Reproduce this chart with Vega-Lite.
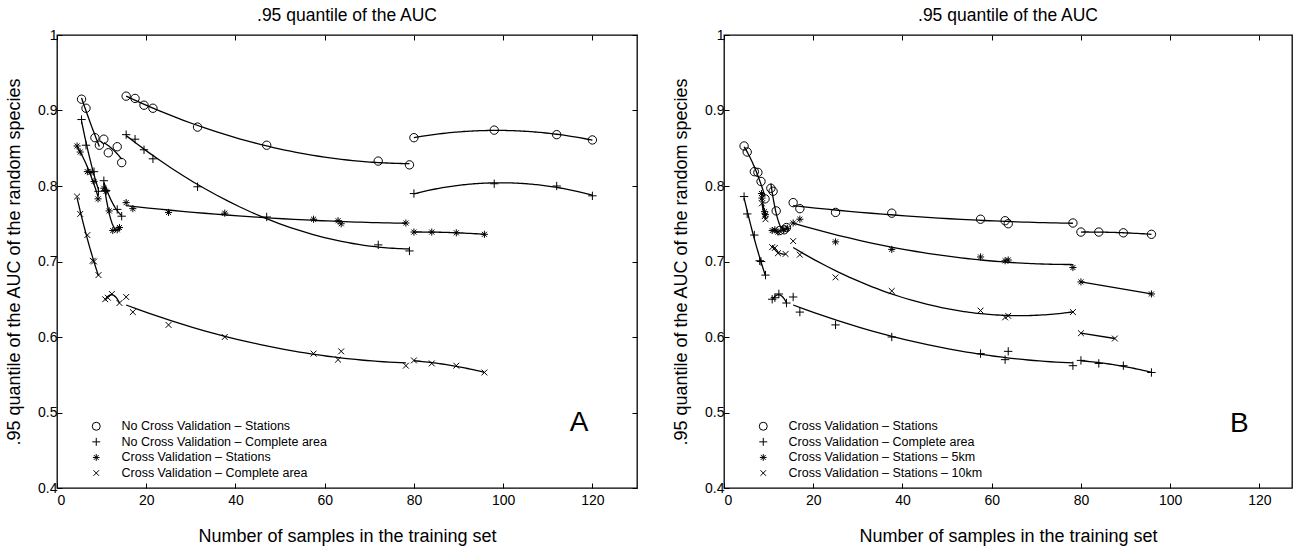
{
"$schema": "https://vega.github.io/schema/vega-lite/v6.json",
"background": "white",
"padding": {"left": 4, "top": 5, "right": 0, "bottom": 0},
"spacing": 32,
"resolve": {"scale": {"shape": "independent"}, "legend": {"shape": "independent"}},
"config": {
 "font": "Liberation Sans",
 "view": {"stroke": "black", "strokeWidth": 1.3},
 "axis": {"grid": false, "domain": false, "tickColor": "black", "tickSize": -5, "tickWidth": 1, "labelColor": "black", "labelFontSize": 14, "labelFont": "Liberation Sans", "titleColor": "black", "titleFont": "Liberation Sans", "titleFontSize": 18, "titleFontWeight": "normal"},
 "title": {"font": "Liberation Sans", "fontSize": 17.5, "fontWeight": "normal", "color": "black", "offset": 0},
 "legend": {"orient": "none", "legendX": 33, "legendY": 385, "title": null, "labelFontSize": 12.5, "labelFont": "Liberation Sans", "labelColor": "black", "labelLimit": 400, "symbolSize": 64, "symbolStrokeWidth": 1, "symbolStrokeColor": "black", "symbolFillColor": "transparent", "labelOffset": 19, "rowPadding": 2.6}
},
"datasets": {
 "A": [
  {"s":"No Cross Validation – Stations","g":1,"x":5.5,"y":0.915},{"s":"No Cross Validation – Stations","g":1,"x":6.5,"y":0.903},{"s":"No Cross Validation – Stations","g":1,"x":8.5,"y":0.864},{"s":"No Cross Validation – Stations","g":1,"x":9.5,"y":0.854},
  {"s":"No Cross Validation – Stations","g":2,"x":10.5,"y":0.862},{"s":"No Cross Validation – Stations","g":2,"x":11.5,"y":0.844},{"s":"No Cross Validation – Stations","g":2,"x":13.5,"y":0.852},{"s":"No Cross Validation – Stations","g":2,"x":14.5,"y":0.831},
  {"s":"No Cross Validation – Stations","g":3,"x":15.5,"y":0.919},{"s":"No Cross Validation – Stations","g":3,"x":17.5,"y":0.916},{"s":"No Cross Validation – Stations","g":3,"x":19.5,"y":0.907},{"s":"No Cross Validation – Stations","g":3,"x":21.5,"y":0.903},{"s":"No Cross Validation – Stations","g":3,"x":31.5,"y":0.878},{"s":"No Cross Validation – Stations","g":3,"x":47,"y":0.854},{"s":"No Cross Validation – Stations","g":3,"x":72,"y":0.833},{"s":"No Cross Validation – Stations","g":3,"x":79,"y":0.828},
  {"s":"No Cross Validation – Stations","g":4,"x":80,"y":0.864},{"s":"No Cross Validation – Stations","g":4,"x":98,"y":0.874},{"s":"No Cross Validation – Stations","g":4,"x":112,"y":0.868},{"s":"No Cross Validation – Stations","g":4,"x":120,"y":0.861},
  {"s":"No Cross Validation – Complete area","g":1,"x":5.5,"y":0.888},{"s":"No Cross Validation – Complete area","g":1,"x":6.5,"y":0.854},{"s":"No Cross Validation – Complete area","g":1,"x":8.3,"y":0.819},{"s":"No Cross Validation – Complete area","g":1,"x":9.3,"y":0.793},
  {"s":"No Cross Validation – Complete area","g":2,"x":10.5,"y":0.807},{"s":"No Cross Validation – Complete area","g":2,"x":11,"y":0.794},{"s":"No Cross Validation – Complete area","g":2,"x":13.5,"y":0.769},{"s":"No Cross Validation – Complete area","g":2,"x":14.5,"y":0.76},
  {"s":"No Cross Validation – Complete area","g":3,"x":15.5,"y":0.868},{"s":"No Cross Validation – Complete area","g":3,"x":17.5,"y":0.862},{"s":"No Cross Validation – Complete area","g":3,"x":19.5,"y":0.848},{"s":"No Cross Validation – Complete area","g":3,"x":21.5,"y":0.836},{"s":"No Cross Validation – Complete area","g":3,"x":31.5,"y":0.799},{"s":"No Cross Validation – Complete area","g":3,"x":47,"y":0.759},{"s":"No Cross Validation – Complete area","g":3,"x":72,"y":0.722},{"s":"No Cross Validation – Complete area","g":3,"x":79,"y":0.714},
  {"s":"No Cross Validation – Complete area","g":4,"x":80,"y":0.79},{"s":"No Cross Validation – Complete area","g":4,"x":98,"y":0.803},{"s":"No Cross Validation – Complete area","g":4,"x":112,"y":0.8},{"s":"No Cross Validation – Complete area","g":4,"x":120,"y":0.787},
  {"s":"Cross Validation – Stations","g":1,"x":4.5,"y":0.853},{"s":"Cross Validation – Stations","g":1,"x":5.2,"y":0.845},{"s":"Cross Validation – Stations","g":1,"x":6.8,"y":0.819},{"s":"Cross Validation – Stations","g":1,"x":7.6,"y":0.818},{"s":"Cross Validation – Stations","g":1,"x":8.3,"y":0.806},{"s":"Cross Validation – Stations","g":1,"x":9.2,"y":0.783},
  {"s":"Cross Validation – Stations","g":2,"x":10.5,"y":0.797},{"s":"Cross Validation – Stations","g":2,"x":11,"y":0.793},{"s":"Cross Validation – Stations","g":2,"x":11.7,"y":0.767},{"s":"Cross Validation – Stations","g":2,"x":12.5,"y":0.741},{"s":"Cross Validation – Stations","g":2,"x":13.5,"y":0.742},{"s":"Cross Validation – Stations","g":2,"x":14,"y":0.745},
  {"s":"Cross Validation – Stations","g":3,"x":15.5,"y":0.778},{"s":"Cross Validation – Stations","g":3,"x":17,"y":0.77},{"s":"Cross Validation – Stations","g":3,"x":25,"y":0.765},{"s":"Cross Validation – Stations","g":3,"x":37.6,"y":0.764},{"s":"Cross Validation – Stations","g":3,"x":57.5,"y":0.756},{"s":"Cross Validation – Stations","g":3,"x":63,"y":0.754},{"s":"Cross Validation – Stations","g":3,"x":63.7,"y":0.75},{"s":"Cross Validation – Stations","g":3,"x":78.2,"y":0.751},
  {"s":"Cross Validation – Stations","g":4,"x":80,"y":0.739},{"s":"Cross Validation – Stations","g":4,"x":84,"y":0.739},{"s":"Cross Validation – Stations","g":4,"x":89.5,"y":0.738},{"s":"Cross Validation – Stations","g":4,"x":95.8,"y":0.736},
  {"s":"Cross Validation – Complete area","g":1,"x":4.5,"y":0.786},{"s":"Cross Validation – Complete area","g":1,"x":5.2,"y":0.763},{"s":"Cross Validation – Complete area","g":1,"x":6.8,"y":0.735},{"s":"Cross Validation – Complete area","g":1,"x":8,"y":0.701},{"s":"Cross Validation – Complete area","g":1,"x":8.3,"y":0.7},{"s":"Cross Validation – Complete area","g":1,"x":9.3,"y":0.682},
  {"s":"Cross Validation – Complete area","g":2,"x":10.8,"y":0.65},{"s":"Cross Validation – Complete area","g":2,"x":11.4,"y":0.652},{"s":"Cross Validation – Complete area","g":2,"x":12.3,"y":0.657},{"s":"Cross Validation – Complete area","g":2,"x":14,"y":0.645},
  {"s":"Cross Validation – Complete area","g":3,"x":15.5,"y":0.653},{"s":"Cross Validation – Complete area","g":3,"x":17,"y":0.633},{"s":"Cross Validation – Complete area","g":3,"x":25,"y":0.616},{"s":"Cross Validation – Complete area","g":3,"x":37.6,"y":0.6},{"s":"Cross Validation – Complete area","g":3,"x":57.5,"y":0.578},{"s":"Cross Validation – Complete area","g":3,"x":63,"y":0.57},{"s":"Cross Validation – Complete area","g":3,"x":63.7,"y":0.581},{"s":"Cross Validation – Complete area","g":3,"x":78.2,"y":0.562},
  {"s":"Cross Validation – Complete area","g":4,"x":80,"y":0.569},{"s":"Cross Validation – Complete area","g":4,"x":84,"y":0.565},{"s":"Cross Validation – Complete area","g":4,"x":89.5,"y":0.562},{"s":"Cross Validation – Complete area","g":4,"x":95.8,"y":0.553}
 ],
 "B": [
  {"s":"Cross Validation – Stations","g":1,"x":4.5,"y":0.853},{"s":"Cross Validation – Stations","g":1,"x":5.2,"y":0.845},{"s":"Cross Validation – Stations","g":1,"x":6.8,"y":0.819},{"s":"Cross Validation – Stations","g":1,"x":7.6,"y":0.818},{"s":"Cross Validation – Stations","g":1,"x":8.3,"y":0.806},{"s":"Cross Validation – Stations","g":1,"x":9.2,"y":0.783},
  {"s":"Cross Validation – Stations","g":2,"x":10.5,"y":0.797},{"s":"Cross Validation – Stations","g":2,"x":11,"y":0.793},{"s":"Cross Validation – Stations","g":2,"x":11.7,"y":0.767},{"s":"Cross Validation – Stations","g":2,"x":12.5,"y":0.741},{"s":"Cross Validation – Stations","g":2,"x":13.5,"y":0.742},{"s":"Cross Validation – Stations","g":2,"x":14,"y":0.745},
  {"s":"Cross Validation – Stations","g":3,"x":15.5,"y":0.778},{"s":"Cross Validation – Stations","g":3,"x":17,"y":0.77},{"s":"Cross Validation – Stations","g":3,"x":25,"y":0.765},{"s":"Cross Validation – Stations","g":3,"x":37.6,"y":0.764},{"s":"Cross Validation – Stations","g":3,"x":57.5,"y":0.756},{"s":"Cross Validation – Stations","g":3,"x":63,"y":0.754},{"s":"Cross Validation – Stations","g":3,"x":63.7,"y":0.75},{"s":"Cross Validation – Stations","g":3,"x":78.2,"y":0.751},
  {"s":"Cross Validation – Stations","g":4,"x":80,"y":0.739},{"s":"Cross Validation – Stations","g":4,"x":84,"y":0.739},{"s":"Cross Validation – Stations","g":4,"x":89.5,"y":0.738},{"s":"Cross Validation – Stations","g":4,"x":95.8,"y":0.736},
  {"s":"Cross Validation – Complete area","g":1,"x":4.5,"y":0.786},{"s":"Cross Validation – Complete area","g":1,"x":5.2,"y":0.763},{"s":"Cross Validation – Complete area","g":1,"x":6.8,"y":0.735},{"s":"Cross Validation – Complete area","g":1,"x":8,"y":0.701},{"s":"Cross Validation – Complete area","g":1,"x":8.3,"y":0.7},{"s":"Cross Validation – Complete area","g":1,"x":9.3,"y":0.682},
  {"s":"Cross Validation – Complete area","g":2,"x":10.8,"y":0.65},{"s":"Cross Validation – Complete area","g":2,"x":11.4,"y":0.652},{"s":"Cross Validation – Complete area","g":2,"x":12.3,"y":0.657},{"s":"Cross Validation – Complete area","g":2,"x":14,"y":0.645},
  {"s":"Cross Validation – Complete area","g":3,"x":15.5,"y":0.653},{"s":"Cross Validation – Complete area","g":3,"x":17,"y":0.633},{"s":"Cross Validation – Complete area","g":3,"x":25,"y":0.616},{"s":"Cross Validation – Complete area","g":3,"x":37.6,"y":0.6},{"s":"Cross Validation – Complete area","g":3,"x":57.5,"y":0.578},{"s":"Cross Validation – Complete area","g":3,"x":63,"y":0.57},{"s":"Cross Validation – Complete area","g":3,"x":63.7,"y":0.581},{"s":"Cross Validation – Complete area","g":3,"x":78.2,"y":0.562},
  {"s":"Cross Validation – Complete area","g":4,"x":80,"y":0.569},{"s":"Cross Validation – Complete area","g":4,"x":84,"y":0.565},{"s":"Cross Validation – Complete area","g":4,"x":89.5,"y":0.562},{"s":"Cross Validation – Complete area","g":4,"x":95.8,"y":0.553},
  {"s":"Cross Validation – Stations – 5km","g":1,"x":8.4,"y":0.79},{"s":"Cross Validation – Stations – 5km","g":1,"x":8.5,"y":0.784},{"s":"Cross Validation – Stations – 5km","g":1,"x":9.1,"y":0.766},{"s":"Cross Validation – Stations – 5km","g":1,"x":9.3,"y":0.762},
  {"s":"Cross Validation – Stations – 5km","g":2,"x":10.8,"y":0.741},{"s":"Cross Validation – Stations – 5km","g":2,"x":11.4,"y":0.742},{"s":"Cross Validation – Stations – 5km","g":2,"x":12.1,"y":0.739},{"s":"Cross Validation – Stations – 5km","g":2,"x":13.4,"y":0.742},{"s":"Cross Validation – Stations – 5km","g":2,"x":14.2,"y":0.744},
  {"s":"Cross Validation – Stations – 5km","g":3,"x":15.5,"y":0.751},{"s":"Cross Validation – Stations – 5km","g":3,"x":17,"y":0.756},{"s":"Cross Validation – Stations – 5km","g":3,"x":25,"y":0.726},{"s":"Cross Validation – Stations – 5km","g":3,"x":37.6,"y":0.716},{"s":"Cross Validation – Stations – 5km","g":3,"x":57.5,"y":0.706},{"s":"Cross Validation – Stations – 5km","g":3,"x":63,"y":0.701},{"s":"Cross Validation – Stations – 5km","g":3,"x":63.7,"y":0.702},{"s":"Cross Validation – Stations – 5km","g":3,"x":78.2,"y":0.692},
  {"s":"Cross Validation – Stations – 5km","g":4,"x":80,"y":0.673},{"s":"Cross Validation – Stations – 5km","g":4,"x":95.8,"y":0.657},
  {"s":"Cross Validation – Stations – 10km","g":1,"x":8.5,"y":0.777},{"s":"Cross Validation – Stations – 10km","g":1,"x":9.1,"y":0.76},{"s":"Cross Validation – Stations – 10km","g":1,"x":9.3,"y":0.756},
  {"s":"Cross Validation – Stations – 10km","g":2,"x":10.8,"y":0.719},{"s":"Cross Validation – Stations – 10km","g":2,"x":11.4,"y":0.718},{"s":"Cross Validation – Stations – 10km","g":2,"x":12.1,"y":0.711},{"s":"Cross Validation – Stations – 10km","g":2,"x":13.8,"y":0.71},
  {"s":"Cross Validation – Stations – 10km","g":3,"x":15.5,"y":0.727},{"s":"Cross Validation – Stations – 10km","g":3,"x":17,"y":0.709},{"s":"Cross Validation – Stations – 10km","g":3,"x":25,"y":0.679},{"s":"Cross Validation – Stations – 10km","g":3,"x":37.6,"y":0.661},{"s":"Cross Validation – Stations – 10km","g":3,"x":57.5,"y":0.635},{"s":"Cross Validation – Stations – 10km","g":3,"x":63,"y":0.626},{"s":"Cross Validation – Stations – 10km","g":3,"x":63.7,"y":0.628},{"s":"Cross Validation – Stations – 10km","g":3,"x":78.2,"y":0.633},
  {"s":"Cross Validation – Stations – 10km","g":4,"x":80,"y":0.605},{"s":"Cross Validation – Stations – 10km","g":4,"x":87.6,"y":0.598}
 ]
},
"hconcat": [
 {
  "width": 580, "height": 453,
  "title": ".95 quantile of the AUC",
  "data": {"name": "A"},
  "resolve": {"axis": {"x": "independent", "y": "independent"}},
  "layer": [
   {
    "transform": [
     {"joinaggregate": [{"op": "count", "as": "n"}], "groupby": ["s", "g"]},
     {"filter": "datum.n >= 3"},
     {"regression": "y", "on": "x", "groupby": ["s", "g"], "method": "poly", "order": 2}
    ],
    "mark": {"type": "line", "color": "black", "strokeWidth": 1.3},
    "encoding": {
     "x": {"field": "x", "type": "quantitative", "scale": {"domain": [0, 130], "nice": false, "zero": false}, "axis": null},
     "y": {"field": "y", "type": "quantitative", "scale": {"domain": [0.4, 1], "nice": false, "zero": false}, "axis": null},
     "detail": [{"field": "s"}, {"field": "g"}]
    }
   },
   {
    "mark": {"type": "point", "filled": false, "stroke": "black", "strokeWidth": 1, "size": 70, "opacity": 1},
    "encoding": {
     "x": {"field": "x", "type": "quantitative", "axis": {"orient": "bottom", "values": [0, 20, 40, 60, 80, 100, 120], "title": "Number of samples in the training set", "labelPadding": 10, "titlePadding": 20}},
     "y": {"field": "y", "type": "quantitative", "axis": {"orient": "left", "values": [0.4, 0.5, 0.6, 0.7, 0.8, 0.9, 1], "format": "~g", "title": ".95 quantile of the AUC of the random species", "labelPadding": 5, "titlePadding": 14}},
     "shape": {"field": "s", "type": "nominal", "scale": {"domain": ["No Cross Validation – Stations", "No Cross Validation – Complete area", "Cross Validation – Stations", "Cross Validation – Complete area"], "range": ["circle", "M-1,0L1,0M0,-1L0,1", "M-0.85,0L0.85,0M0,-0.85L0,0.85M-0.6,-0.6L0.6,0.6M-0.6,0.6L0.6,-0.6", "M-0.7,-0.7L0.7,0.7M-0.7,0.7L0.7,-0.7"]}}
    }
   },
   {
    "data": {"values": [{}]},
    "mark": {"type": "text", "text": "A", "fontSize": 28, "font": "Liberation Sans", "color": "black"},
    "encoding": {
     "x": {"datum": 117, "type": "quantitative", "axis": {"orient": "top", "labels": false, "title": null, "values": [0, 20, 40, 60, 80, 100, 120]}},
     "y": {"datum": 0.486, "type": "quantitative", "axis": {"orient": "right", "labels": false, "title": null, "values": [0.4, 0.5, 0.6, 0.7, 0.8, 0.9, 1]}}
    }
   }
  ]
 },
 {
  "width": 568, "height": 453,
  "title": ".95 quantile of the AUC",
  "data": {"name": "B"},
  "resolve": {"axis": {"x": "independent", "y": "independent"}},
  "layer": [
   {
    "transform": [
     {"joinaggregate": [{"op": "count", "as": "n"}], "groupby": ["s", "g"]},
     {"filter": "datum.n >= 3"},
     {"regression": "y", "on": "x", "groupby": ["s", "g"], "method": "poly", "order": 2}
    ],
    "mark": {"type": "line", "color": "black", "strokeWidth": 1.3},
    "encoding": {
     "x": {"field": "x", "type": "quantitative", "scale": {"domain": [0, 127.3], "nice": false, "zero": false}, "axis": null},
     "y": {"field": "y", "type": "quantitative", "scale": {"domain": [0.4, 1], "nice": false, "zero": false}, "axis": null},
     "detail": [{"field": "s"}, {"field": "g"}]
    }
   },
   {
    "transform": [
     {"joinaggregate": [{"op": "count", "as": "n"}], "groupby": ["s", "g"]},
     {"filter": "datum.n == 2"}
    ],
    "mark": {"type": "line", "color": "black", "strokeWidth": 1.3},
    "encoding": {
     "x": {"field": "x", "type": "quantitative", "axis": null},
     "y": {"field": "y", "type": "quantitative", "axis": null},
     "detail": [{"field": "s"}, {"field": "g"}],
     "order": {"field": "x"}
    }
   },
   {
    "mark": {"type": "point", "filled": false, "stroke": "black", "strokeWidth": 1, "size": 70, "opacity": 1},
    "encoding": {
     "x": {"field": "x", "type": "quantitative", "axis": {"orient": "bottom", "values": [0, 20, 40, 60, 80, 100, 120], "title": "Number of samples in the training set", "labelPadding": 10, "titlePadding": 20}},
     "y": {"field": "y", "type": "quantitative", "axis": {"orient": "left", "values": [0.4, 0.5, 0.6, 0.7, 0.8, 0.9, 1], "format": "~g", "title": ".95 quantile of the AUC of the random species", "labelPadding": 5, "titlePadding": 14}},
     "shape": {"field": "s", "type": "nominal", "scale": {"domain": ["Cross Validation – Stations", "Cross Validation – Complete area", "Cross Validation – Stations – 5km", "Cross Validation – Stations – 10km"], "range": ["circle", "M-1,0L1,0M0,-1L0,1", "M-0.85,0L0.85,0M0,-0.85L0,0.85M-0.6,-0.6L0.6,0.6M-0.6,0.6L0.6,-0.6", "M-0.7,-0.7L0.7,0.7M-0.7,0.7L0.7,-0.7"]}}
    }
   },
   {
    "data": {"values": [{}]},
    "mark": {"type": "text", "text": "B", "fontSize": 28, "font": "Liberation Sans", "color": "black"},
    "encoding": {
     "x": {"datum": 115.5, "type": "quantitative", "axis": {"orient": "top", "labels": false, "title": null, "values": [0, 20, 40, 60, 80, 100, 120]}},
     "y": {"datum": 0.485, "type": "quantitative", "axis": null}
    }
   }
  ]
 }
]
}
